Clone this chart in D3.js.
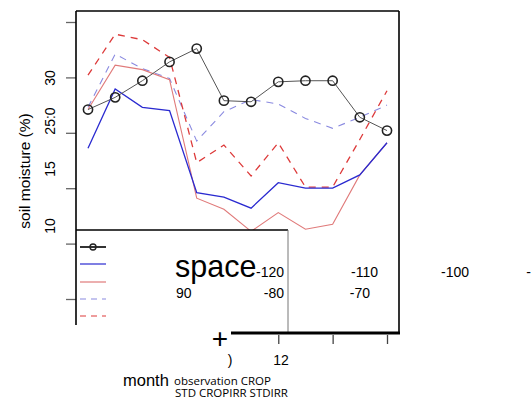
<!DOCTYPE html>
<html><head><meta charset="utf-8">
<script src="https://cdn.jsdelivr.net/npm/d3@7"></script>
<style>body{margin:0;background:#fff}svg{display:block}</style>
</head><body>
<script>
const months = [1,2,3,4,5,6,7,8,9,10,11,12];
const observation = [27.1,28.2,29.7,31.4,32.6,27.9,27.8,29.6,29.7,29.7,26.4,25.2];
const crop        = [23.6,28.95,27.3,27.0,19.6,19.2,18.2,20.5,20.0,20.0,21.2,24.1];
const std         = [27.1,31.1,30.7,29.8,19.1,18.1,16.1,17.8,16.3,16.75,21.2,24.1];
const cropirr     = [27.3,32.1,30.8,29.9,24.25,26.9,28.0,27.6,26.3,25.4,26.4,27.5];
const stdirr      = [30.2,33.9,33.4,31.8,22.3,23.9,21.1,24.1,20.1,20.1,24.4,28.8];
const seriesNames = ["observation","CROP","STD","CROPIRR","STDIRR"];
const yTicks = [10,15,20,25,30,35];
const yTickLabels = ["30","25:0","15","10"];
const xTicks = [8,10,12];
const xTickLabels = [")","12"];
const spaceRow1 = ["-120","-110","-100","-"];
const spaceRow2 = ["90","-80","-70"];

const W=531,H=401;
const svg=d3.select("body").append("svg").attr("width",W).attr("height",H);
const x=d3.scaleLinear().domain([1,12]).range([88,387]);
const y=d3.scaleLinear().domain([10,35]).range([299,22]);
const FONT="'Liberation Sans', Arial, sans-serif";

const styles=[
 {data:observation,color:"#555",w:1,dash:null},
 {data:crop,color:"#2a2ad0",w:1.3,dash:null},
 {data:std,color:"#e07a7a",w:1.1,dash:null},
 {data:cropirr,color:"#8a8ae0",w:1.1,dash:"7,6"},
 {data:stdirr,color:"#dd3a3a",w:1.3,dash:"7,6"}
];
const line=d3.line().x((d,i)=>x(months[i])).y(d=>y(d));
[3,4,2,1,0].forEach(k=>{
  const s=styles[k];
  svg.append("path").attr("d",line(s.data)).attr("fill","none")
    .attr("stroke",s.color).attr("stroke-width",s.w)
    .attr("stroke-dasharray",s.dash);
});
svg.selectAll("circle.obs").data(observation).enter().append("circle")
  .attr("cx",(d,i)=>x(months[i])).attr("cy",d=>y(d)).attr("r",4.6)
  .attr("fill","none").attr("stroke","#222").attr("stroke-width",1.6);

const yAx=svg.append("g").attr("transform","translate(76,0)")
  .call(d3.axisLeft(y).tickValues(yTicks).tickSize(10).tickFormat(""));
yAx.select(".domain").remove();
yAx.selectAll("line").attr("stroke","#666").attr("stroke-width",1.3);

svg.append("rect").attr("x",76).attr("y",230).attr("width",212).attr("height",103).attr("fill","#fff");
svg.append("line").attr("x1",76).attr("x2",288).attr("y1",230).attr("y2",230).attr("stroke","#000").attr("stroke-width",1.6);
svg.append("line").attr("x1",288).attr("x2",288).attr("y1",230).attr("y2",333).attr("stroke","#777").attr("stroke-width",1);

svg.append("line").attr("x1",76).attr("x2",399).attr("y1",11).attr("y2",11).attr("stroke","#000").attr("stroke-width",1.6);
svg.append("line").attr("x1",76).attr("x2",76).attr("y1",11).attr("y2",325).attr("stroke","#000").attr("stroke-width",1.6);
svg.append("line").attr("x1",399).attr("x2",399).attr("y1",11).attr("y2",333).attr("stroke","#000").attr("stroke-width",1.6);
svg.append("line").attr("x1",231).attr("x2",400).attr("y1",333).attr("y2",333).attr("stroke","#000").attr("stroke-width",3);

const xAx=svg.append("g").attr("transform","translate(0,335)")
  .call(d3.axisBottom(x).tickValues(xTicks).tickSize(9).tickFormat(""));
xAx.select(".domain").remove();
xAx.selectAll("line").attr("stroke","#444").attr("stroke-width",1.3);

const legY=[247,264,282,299,316];
styles.forEach((s,k)=>{
  svg.append("line").attr("x1",80).attr("x2",106).attr("y1",legY[k]).attr("y2",legY[k])
    .attr("stroke",k===0?"#000":s.color).attr("stroke-width",k===0?1.6:1.2)
    .attr("stroke-dasharray",s.dash?"6,5":null);
});
svg.append("circle").attr("cx",93).attr("cy",legY[0]).attr("r",3).attr("fill","none").attr("stroke","#222").attr("stroke-width",1.4);

const yLabPos=[78,121,169,226];
yTickLabels.forEach((t,i)=>{
  svg.append("text").attr("transform",`translate(55,${yLabPos[i]}) rotate(-90)`)
    .attr("text-anchor","middle").attr("font-family",FONT).attr("font-size",14).text(t);
});
svg.append("text").attr("transform","translate(30,171) rotate(-90)")
  .attr("text-anchor","middle").attr("font-family",FONT).attr("font-size",15.5).text("soil moisture (%)");

svg.append("text").attr("x",175).attr("y",277).attr("font-family",FONT).attr("font-size",30.5).text("space");
const r1x=[284,378,469,531];
spaceRow1.forEach((t,i)=>svg.append("text").attr("x",r1x[i]).attr("y",277).attr("text-anchor","end")
  .attr("font-family",FONT).attr("font-size",14).text(t));
const r2x=[176,284,370];
spaceRow2.forEach((t,i)=>svg.append("text").attr("x",r2x[i]).attr("y",298).attr("text-anchor",i===0?"start":"end")
  .attr("font-family",FONT).attr("font-size",14).text(t));

svg.append("text").attr("x",220).attr("y",348).attr("text-anchor","middle").attr("font-family",FONT).attr("font-size",28).text("+");

const xlx=[230,281];
xTickLabels.forEach((t,i)=>svg.append("text").attr("x",xlx[i]).attr("y",365).attr("text-anchor","middle")
  .attr("font-family",FONT).attr("font-size",14).text(t));

svg.append("text").attr("x",123).attr("y",386).attr("font-family",FONT).attr("font-size",16.5).text("month");
svg.append("text").attr("x",174).attr("y",385).attr("font-family","'Open Sans'").attr("font-size",11.5).text(seriesNames.slice(0,2).join(" "));
svg.append("text").attr("x",175).attr("y",397).attr("font-family","'Open Sans'").attr("font-size",11.5).text(seriesNames.slice(2).join(" "));
</script>
</body></html>
